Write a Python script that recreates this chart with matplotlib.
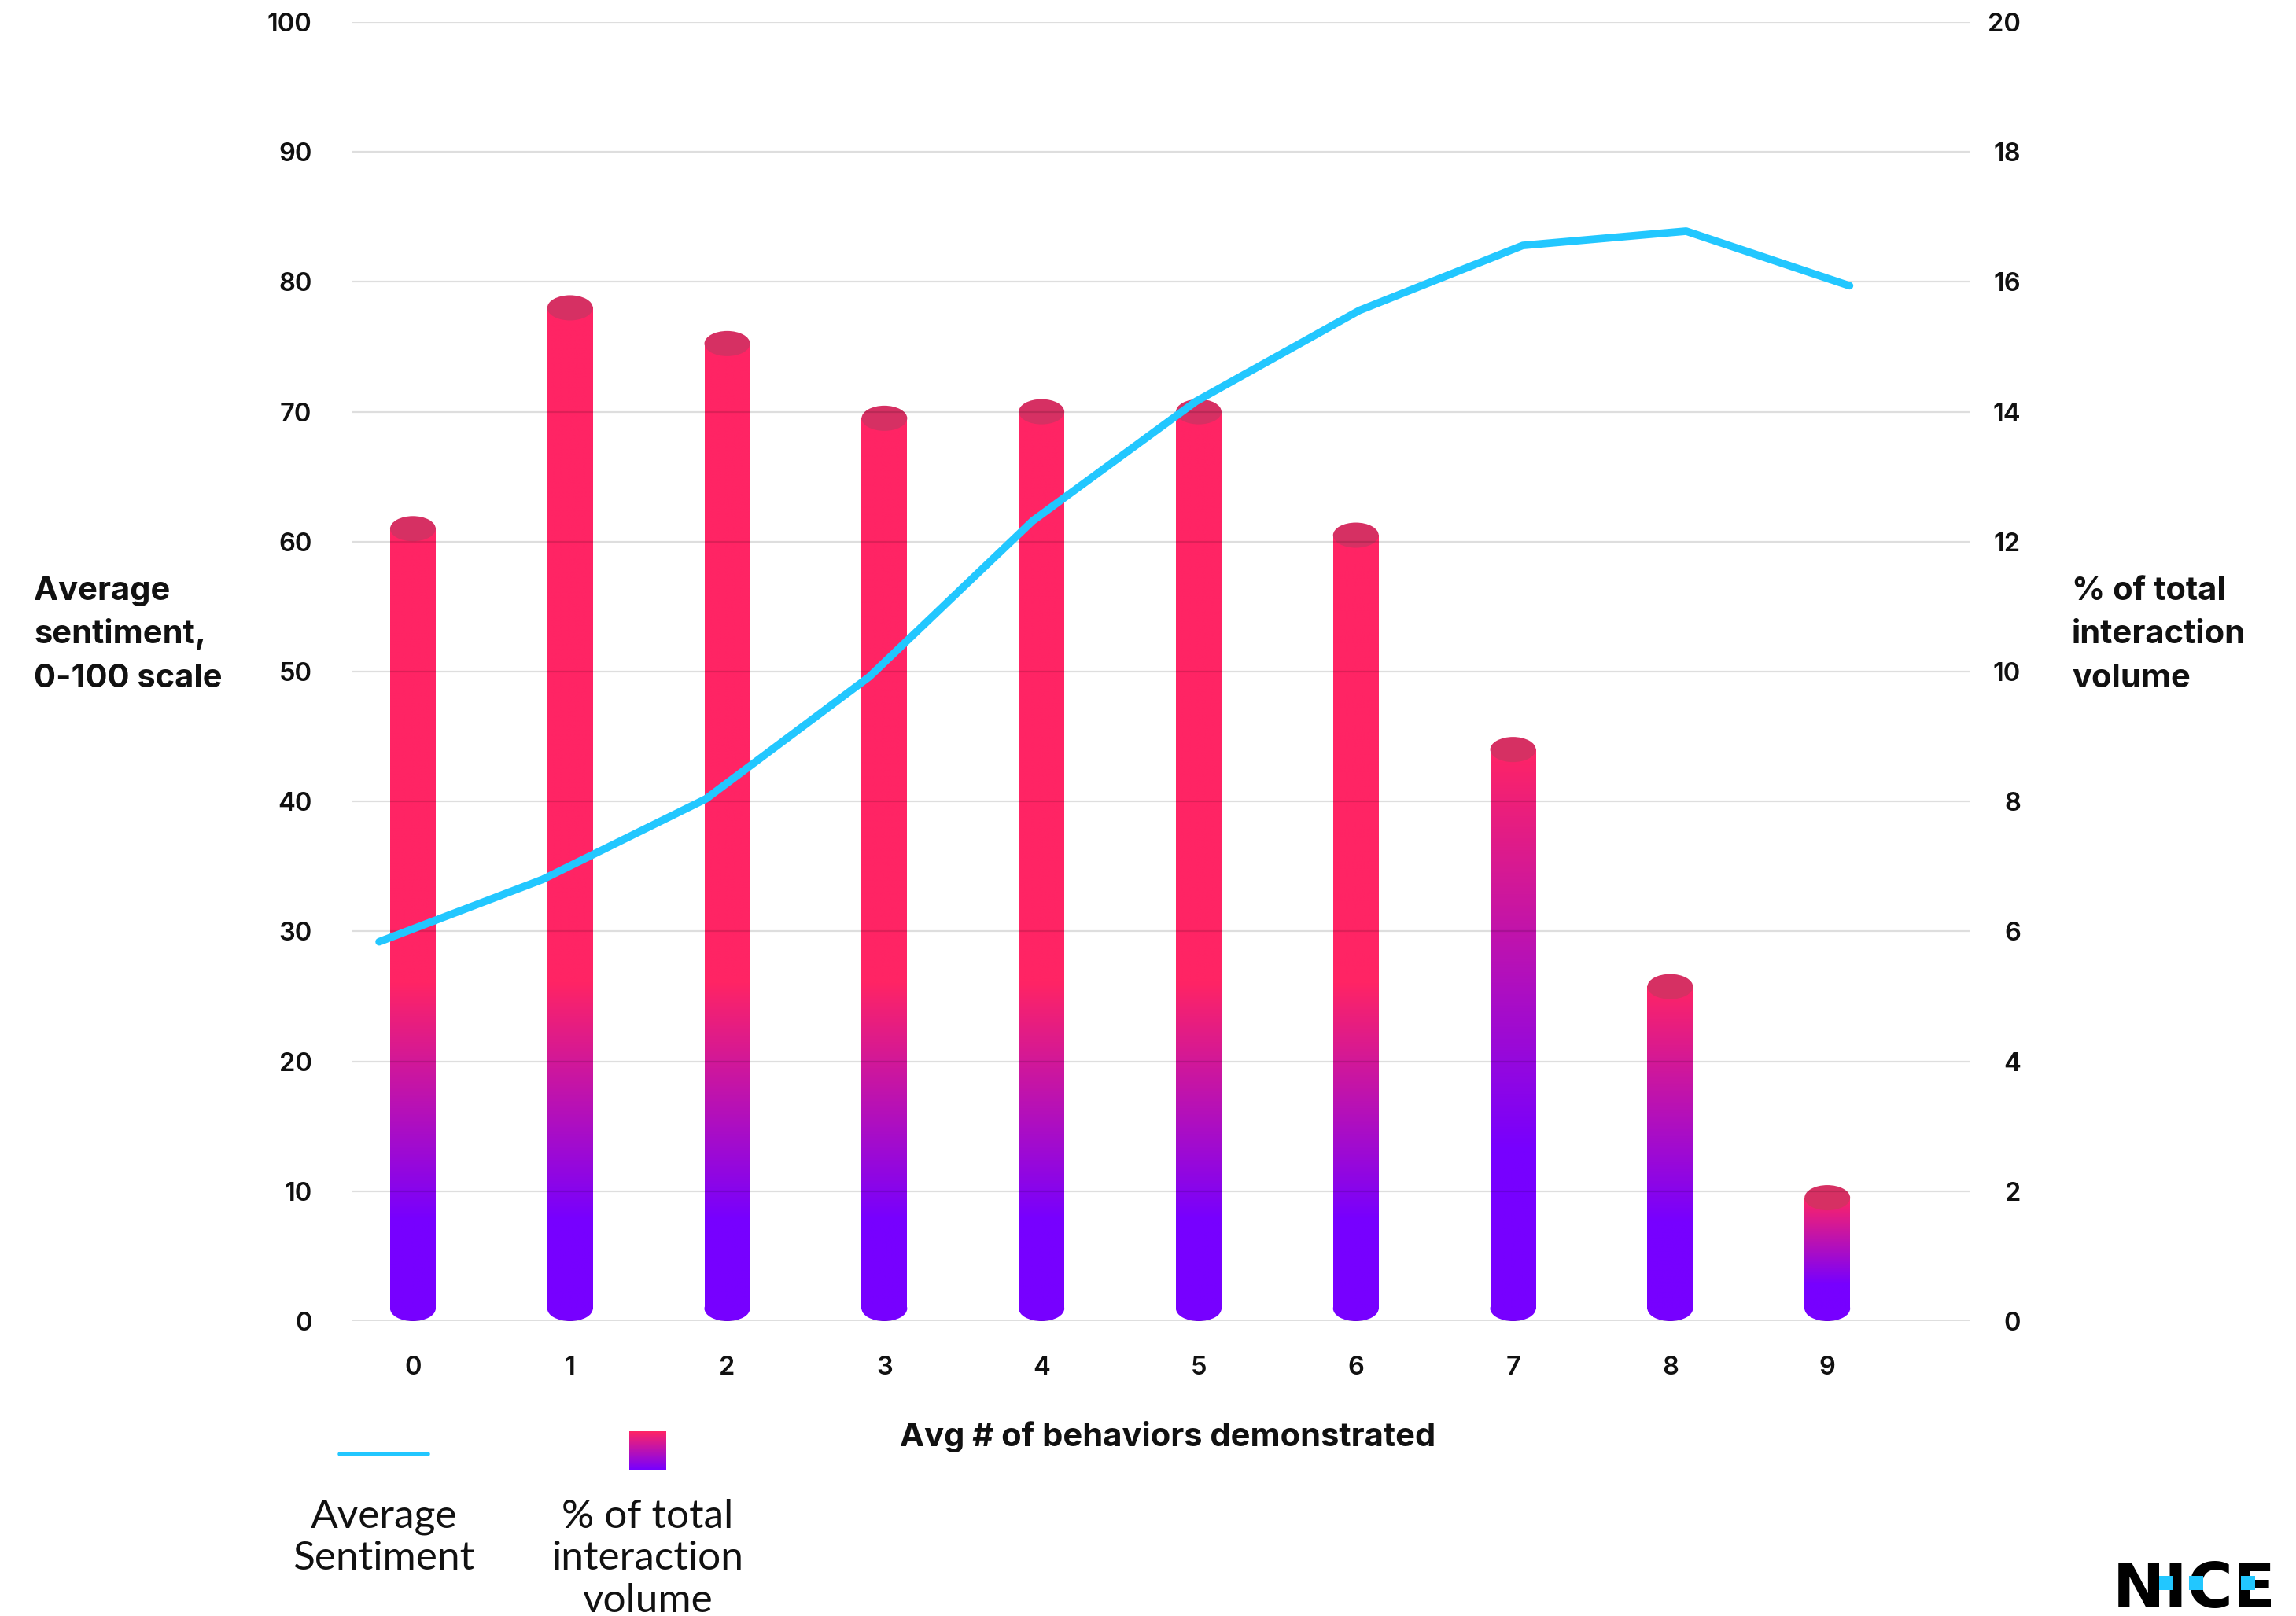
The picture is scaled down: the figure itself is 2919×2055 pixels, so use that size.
import numpy as np
import matplotlib
matplotlib.use("Agg")
import matplotlib.pyplot as plt
from matplotlib.patches import Ellipse, Rectangle
from matplotlib.lines import Line2D
from matplotlib.colors import to_rgb

# ---- data ----
behaviors = [0, 1, 2, 3, 4, 5, 6, 7, 8, 9]
sentiment = [29.2, 34.0, 40.2, 49.6, 61.6, 70.8, 77.8, 82.8, 83.9, 79.7]
volume_pct = [12.2, 15.6, 15.05, 13.9, 14.0, 14.0, 12.1, 8.8, 5.15, 1.9]
left_ticks = list(range(0, 101, 10))
right_ticks = list(range(0, 21, 2))

x_title = "Avg # of behaviors demonstrated"
left_title = ["Average", "sentiment,", "0-100 scale"]
right_title = ["% of total", "interaction", "volume"]
legend_line_label = ["Average", "Sentiment"]
legend_bar_label = ["% of total", "interaction", "volume"]

# ---- style ----
PINK = "#FF2465"
PURPLE = "#7700FF"
CAP = "#D63063"
BLUE = "#22C7FF"
FONT = "Inter"
LEG_FONT = "Lato"

W, H, DPI = 2919, 2055, 100
fig = plt.figure(figsize=(W / DPI, H / DPI), dpi=DPI)
fig.patch.set_facecolor("white")


def fx(px):
    return px / W


def fy(py):
    return 1 - py / H


plot_l, plot_r, plot_t, plot_b = 447, 2504, 28, 1680
rect = [fx(plot_l), fy(plot_b), (plot_r - plot_l) / W, (plot_b - plot_t) / H]

ax_bar = fig.add_axes(rect, zorder=1)
ax_line = fig.add_axes(rect, zorder=2)
ax_line.patch.set_visible(False)

# ---- cylinders (right scale) ----
bar_w = 0.29
px_per_unit = (plot_b - plot_t) / 20.0
cap_h = 32 / px_per_unit
pink = np.array(to_rgb(PINK))
purple = np.array(to_rgb(PURPLE))

for x, v in zip(behaviors, volume_pct):
    fade_top = v if v < 10 else 5.2
    fade_bot = 0.3 * fade_top
    base = cap_h / 2
    ys = np.linspace(base, v, 600)
    t = np.clip((ys - fade_bot) / (fade_top - fade_bot), 0, 1)[:, None]
    cols = purple + t * (pink - purple)
    ax_bar.imshow(cols[:, None, :], origin="lower", aspect="auto",
                  extent=[x - bar_w / 2, x + bar_w / 2, base, v],
                  interpolation="bilinear", zorder=0.5)
    ax_bar.add_patch(Ellipse((x, base), bar_w, cap_h, facecolor=PURPLE,
                             edgecolor="none", zorder=0.4))
    ax_bar.add_patch(Ellipse((x, v), bar_w, cap_h, facecolor=CAP,
                             edgecolor="none", zorder=2))

ax_bar.set_xlim(-0.39, 9.905)
ax_bar.set_ylim(0, 20)
ax_bar.set_yticks(right_ticks)
ax_bar.yaxis.tick_right()
ax_bar.set_xticks(behaviors)
ax_bar.set_xticklabels([str(b) for b in behaviors])
ax_bar.tick_params(axis="y", length=0, pad=46.8, labelsize=23.5, labelcolor="#111111")
ax_bar.tick_params(axis="x", length=0, pad=32, labelsize=23.5, labelcolor="#111111")
for lbl in ax_bar.get_yticklabels():
    lbl.set_horizontalalignment("right")
    lbl.set_fontfamily(FONT)
    lbl.set_fontweight("semibold")
for lbl in ax_bar.get_xticklabels():
    lbl.set_fontfamily(FONT)
    lbl.set_fontweight("semibold")
ax_bar.yaxis.grid(True, color="black", alpha=0.13, linewidth=1.6)
ax_bar.xaxis.grid(False)
ax_bar.set_axisbelow(False)
for s in ax_bar.spines.values():
    s.set_visible(False)

# ---- sentiment line (left scale) ----
ax_line.plot(behaviors, sentiment, color=BLUE, linewidth=7,
             solid_capstyle="round", solid_joinstyle="round")
ax_line.set_xlim(-0.169, 9.735)
ax_line.set_ylim(0, 100)
ax_line.set_yticks(left_ticks)
ax_line.set_xticks([])
ax_line.tick_params(axis="y", length=0, pad=36.4, labelsize=23.5, labelcolor="#111111")
for lbl in ax_line.get_yticklabels():
    lbl.set_fontfamily(FONT)
    lbl.set_fontweight("semibold")
for s in ax_line.spines.values():
    s.set_visible(False)

# ---- axis titles ----
title_kw = dict(fontfamily=FONT, fontweight="bold", fontsize=30,
                color="#111111", va="baseline")
for i, line in enumerate(left_title):
    fig.text(fx(43), fy(763 + 55.5 * i), line, ha="left", **title_kw)
for i, line in enumerate(right_title):
    fig.text(fx(2634), fy(763 + 55.5 * i), line, ha="left", **title_kw)
fig.text(fx(1485), fy(1839), x_title, ha="center", **title_kw)

# ---- legend ----
fig.add_artist(Line2D([fx(432), fx(544)], [fy(1849), fy(1849)], color=BLUE,
                      linewidth=4, solid_capstyle="round",
                      transform=fig.transFigure))
leg_ax = fig.add_axes([fx(800), fy(1869), 47 / W, 49 / H])
g = np.linspace(0, 1, 200)[:, None]
leg_cols = purple + g * (pink - purple)
leg_ax.imshow(leg_cols[:, None, :], origin="lower", aspect="auto",
              extent=[0, 1, 0, 1])
leg_ax.axis("off")

leg_kw = dict(fontfamily=LEG_FONT, fontweight="normal", fontsize=37,
              color="#111111", va="baseline", ha="center")
for i, line in enumerate(legend_line_label):
    fig.text(fx(488), fy(1943 + 53.5 * i), line, **leg_kw)
for i, line in enumerate(legend_bar_label):
    fig.text(fx(823), fy(1943 + 53.5 * i), line, **leg_kw)

# ---- brand mark ----
fig.text(fx(2686), fy(2044), "NICE", fontfamily="DejaVu Sans",
         fontweight="bold", fontsize=57, color="black", ha="left",
         va="baseline", zorder=3)
for sx in (2745, 2783, 2849):
    fig.add_artist(Rectangle((fx(sx), fy(2022)), 18 / W, 18 / H,
                             facecolor=BLUE, edgecolor="none",
                             transform=fig.transFigure, zorder=6))

fig.savefig("out.png", dpi=DPI, facecolor="white")
